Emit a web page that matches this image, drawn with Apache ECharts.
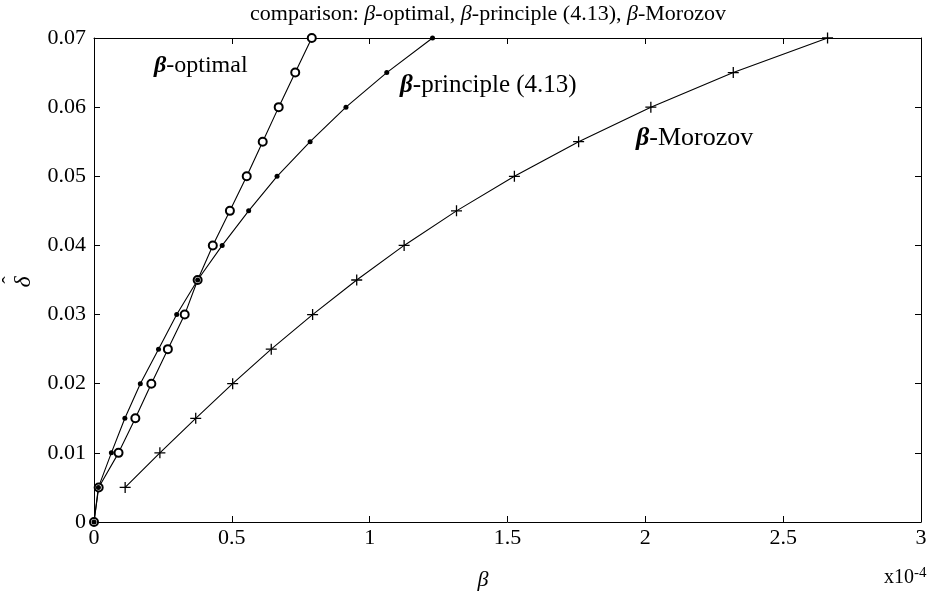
<!DOCTYPE html>
<html>
<head>
<meta charset="utf-8">
<script src="https://cdn.jsdelivr.net/npm/echarts@6/dist/echarts.min.js"></script>
<style>
  html, body { margin: 0; padding: 0; background: #fff; }
  #chart { width: 937px; height: 601px; }
</style>
</head>
<body>
<div id="chart"></div>
<script>
// Noise level delta-hat (y) against the chosen regularisation parameter beta (x, in units of 1e-4)
const deltaLevels = [0, 0.005, 0.01, 0.015, 0.02, 0.025, 0.03, 0.035, 0.04, 0.045, 0.05, 0.055, 0.06, 0.065, 0.07];
const betaOptimal = [0, 0.017, 0.089, 0.150, 0.208, 0.268, 0.329, 0.376, 0.431, 0.493, 0.554, 0.612, 0.670, 0.730, 0.790];
const betaPrinciple = [0, 0.016, 0.063, 0.112, 0.168, 0.234, 0.300, 0.376, 0.465, 0.561, 0.664, 0.784, 0.914, 1.062, 1.228];
const morozovLevels = [0.005, 0.01, 0.015, 0.02, 0.025, 0.03, 0.035, 0.04, 0.045, 0.05, 0.055, 0.06, 0.065, 0.07];
const betaMorozov = [0.113, 0.239, 0.369, 0.503, 0.643, 0.793, 0.953, 1.125, 1.315, 1.525, 1.758, 2.020, 2.319, 2.661];
const xTicks = { min: 0, max: 3, step: 0.5 };
const yTicks = { min: 0, max: 0.07, step: 0.01 };

const serif = '"Liberation Serif", "DejaVu Serif", serif';
const pairs = (xs, ys) => xs.map((x, i) => [x, ys[i]]);
const plusPath = 'path://M-0.7,-6H0.7V-0.7H6V0.7H0.7V6H-0.7V0.7H-6V-0.7H-0.7Z';

const chart = echarts.init(document.getElementById('chart'), null, { renderer: 'canvas' });

const axisBase = {
  type: 'value',
  axisLine: { show: true, onZero: false, lineStyle: { color: '#000', width: 1 } },
  axisTick: { show: true, inside: true, length: 6, lineStyle: { color: '#000', width: 1 } },
  splitLine: { show: false }
};

const lineSeries = (name, data, symbol, size, style) => ({
  name,
  type: 'line',
  data,
  symbol,
  symbolSize: size,
  showSymbol: true,
  animation: false,
  lineStyle: { color: '#000', width: 1.1 },
  itemStyle: style,
  emphasis: { disabled: true },
  z: 3
});

const labelFont = (size, extra) => ({ font: (extra ? extra + ' ' : '') + size + 'px ' + serif, fill: '#000' });

chart.setOption({
  backgroundColor: '#fff',
  animation: false,
  textStyle: { fontFamily: serif, color: '#000' },
  title: {
    text: 'comparison: {b|β}-optimal, {b|β}-principle (4.13), {b|β}-Morozov',
    left: 483, top: -2, textAlign: 'center',
    textStyle: {
      fontFamily: serif, fontSize: 22, fontWeight: 'normal', color: '#000',
      rich: { b: { fontFamily: serif, fontStyle: 'italic', fontSize: 22, color: '#000' } }
    }
  },
  grid: { left: 94, right: 16, top: 38, bottom: 79, show: false },
  xAxis: [
    Object.assign({}, axisBase, {
      min: xTicks.min, max: xTicks.max, interval: xTicks.step,
      position: 'bottom',
      axisLabel: { color: '#000', fontFamily: serif, fontSize: 22, margin: 5,
        formatter: v => String(v) }
    }),
    Object.assign({}, axisBase, {
      min: xTicks.min, max: xTicks.max, interval: xTicks.step,
      position: 'top', axisLabel: { show: false }
    })
  ],
  yAxis: [
    Object.assign({}, axisBase, {
      min: yTicks.min, max: yTicks.max, interval: yTicks.step,
      position: 'left',
      axisLabel: { color: '#000', fontFamily: serif, fontSize: 22, margin: 8,
        formatter: v => (v === 0 ? '0' : v.toFixed(2)) }
    }),
    Object.assign({}, axisBase, {
      min: yTicks.min, max: yTicks.max, interval: yTicks.step,
      position: 'right', axisLabel: { show: false }
    })
  ],
  series: [
    lineSeries('β-optimal', pairs(betaOptimal, deltaLevels), 'emptyCircle', 8,
      { color: '#000', borderColor: '#000', borderWidth: 1.4 }),
    lineSeries('β-principle (4.13)', pairs(betaPrinciple, deltaLevels), 'circle', 5,
      { color: '#000', borderWidth: 0 }),
    lineSeries('β-Morozov', pairs(betaMorozov, morozovLevels), plusPath, 11,
      { color: '#000', borderWidth: 0 })
  ],
  graphic: [
    { type: 'text', left: 154, top: 54, style: Object.assign({
      text: '{b|β}-optimal', rich: { b: labelFont(24, 'italic bold') } }, labelFont(24)) },
    { type: 'text', left: 400, top: 73, style: Object.assign({
      text: '{b|β}-principle (4.13)', rich: { b: labelFont(25, 'italic bold') } }, labelFont(25)) },
    { type: 'text', left: 636, top: 125, style: Object.assign({
      text: '{b|β}-Morozov', rich: { b: labelFont(26, 'italic bold') } }, labelFont(26)) },
    // y-axis title: delta with a hat, turned to read upwards
    { type: 'group', x: 24, y: 282, rotation: Math.PI / 2, children: [
      { type: 'text', x: 0, y: 0, style: Object.assign({
        text: 'δ', textAlign: 'center', textVerticalAlign: 'middle' }, labelFont(24, 'italic')) },
      { type: 'text', x: 2, y: -13, style: Object.assign({
        text: 'ˆ', textAlign: 'center', textVerticalAlign: 'middle' }, labelFont(22)) }
    ] },
    { type: 'text', x: 483, y: 580, style: Object.assign({
      text: 'β', textAlign: 'center', textVerticalAlign: 'middle' }, labelFont(22, 'italic')) },
    { type: 'text', left: 884, top: 566, style: Object.assign({
      text: 'x10{s|-4}', rich: { s: Object.assign({ verticalAlign: 'top', padding: [0, 0, 8, 0] }, labelFont(15)) } },
      labelFont(20)) }
  ]
});
</script>
</body>
</html>
